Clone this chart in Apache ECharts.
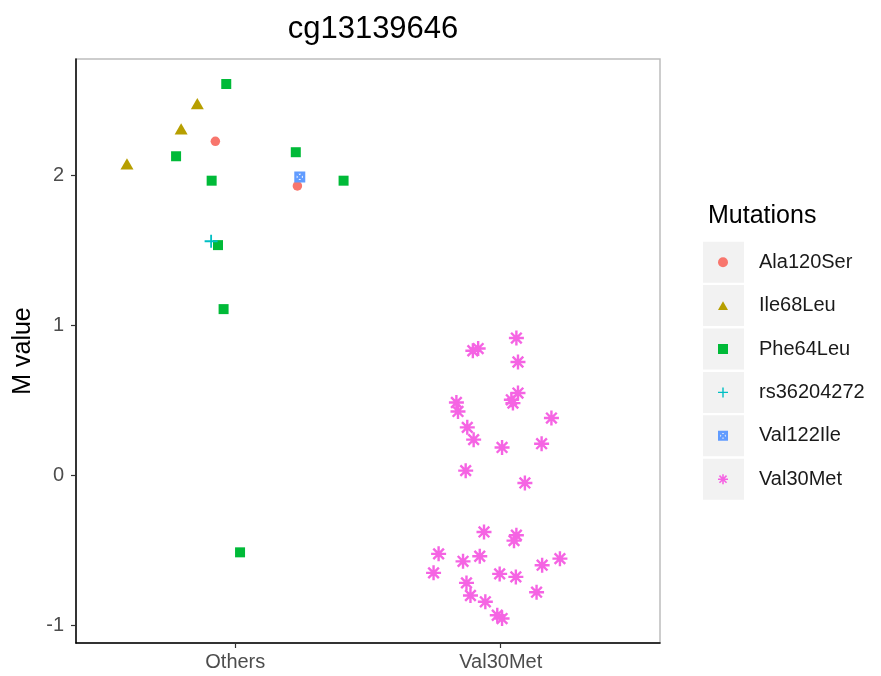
<!DOCTYPE html>
<html>
<head>
<meta charset="utf-8">
<script src="https://cdn.jsdelivr.net/npm/echarts@6/dist/echarts.min.js"></script>
<style>
html,body{margin:0;padding:0;background:#fff;}
#chart{width:881px;height:676px;}
</style>
</head>
<body>
<div id="chart"></div>
<script>
// ---- data ----
const chartTitle = 'cg13139646';
const categories = ['Others', 'Val30Met'];
const yTicks = [-1, 0, 1, 2];
const mutations = ['Ala120Ser', 'Ile68Leu', 'Phe64Leu', 'rs36204272', 'Val122Ile', 'Val30Met'];
const mutationColors = ['#F8766D', '#B79F00', '#00BA38', '#00BFC4', '#619CFF', '#F564E3'];

// each point: [category index, horizontal jitter, M value]
const ala120Ser = [[0, -0.075, 2.228], [0, 0.234, 1.93]];
const ile68Leu = [[0, -0.143, 2.48], [0, -0.204, 2.31], [0, -0.408, 2.077]];
const phe64Leu = [[0, -0.034, 2.61], [0, -0.223, 2.128], [0, 0.228, 2.155], [0, 0.408, 1.965],
  [0, -0.089, 1.965], [0, -0.065, 1.535], [0, -0.044, 1.108], [0, 0.018, -0.515]];
const rs36204272 = [[0, -0.091, 1.561]];
const val122Ile = [[0, 0.243, 1.99]];
const val30Met = [
  [1, 0.059, 0.915], [1, -0.105, 0.83], [1, -0.085, 0.845], [1, 0.065, 0.755], [1, 0.065, 0.548],
  [1, 0.04, 0.503], [1, 0.046, 0.481], [1, -0.167, 0.485], [1, -0.161, 0.425], [1, 0.191, 0.381],
  [1, -0.126, 0.319], [1, -0.102, 0.237], [1, 0.154, 0.21], [1, 0.005, 0.185], [1, -0.132, 0.03],
  [1, 0.091, -0.052], [1, -0.063, -0.379], [1, 0.059, -0.401], [1, 0.05, -0.437], [1, -0.234, -0.525],
  [1, -0.142, -0.575], [1, -0.079, -0.541], [1, 0.223, -0.557], [1, 0.156, -0.601], [1, -0.253, -0.652],
  [1, -0.004, -0.659], [1, 0.057, -0.679], [1, -0.129, -0.719], [1, -0.114, -0.803], [1, 0.135, -0.781],
  [1, -0.058, -0.845], [1, -0.013, -0.935], [1, 0.005, -0.957]
];
const seriesPoints = [ala120Ser, ile68Leu, phe64Leu, rs36204272, val122Ile, val30Met];

// ---- symbols ----
function asteriskPath(h) {
  let d = '';
  [0, 45, 90, 135].forEach(function (deg) {
    const t = deg * Math.PI / 180;
    const ux = Math.cos(t), uy = Math.sin(t), vx = -uy, vy = ux;
    const pts = [[5 + ux * 5 + vx * h, 5 + uy * 5 + vy * h], [5 + ux * 5 - vx * h, 5 + uy * 5 - vy * h],
                 [5 - ux * 5 - vx * h, 5 - uy * 5 - vy * h], [5 - ux * 5 + vx * h, 5 - uy * 5 + vy * h]];
    d += 'M' + pts.map(function (p) { return p[0].toFixed(3) + ',' + p[1].toFixed(3); }).join('L') + 'Z';
  });
  return 'path://' + d;
}
const trianglePath = 'path://M5,0L10,8.66L0,8.66Z';
const squarePath = 'path://M0,0H10V10H0Z';
const plusPath = 'path://M4.3,0H5.7V4.3H10V5.7H5.7V10H4.3V5.7H0V4.3H4.3Z';
const squareCrossPath = 'path://M0,0H10V10H0Z' +
  'M3.756,2.2L5,3.444L6.244,2.2Z' +
  'M7.8,3.756L6.556,5L7.8,6.244Z' +
  'M6.244,7.8L5,6.556L3.756,7.8Z' +
  'M2.2,6.244L3.444,5L2.2,3.756Z';
const symbols = ['circle', trianglePath, squarePath, plusPath, squareCrossPath, asteriskPath(0.8)];
const symbolSizes = [9.5, 13, 10, 13, 11, 15];

const chart = echarts.init(document.getElementById('chart'), null, { renderer: 'canvas' });

const series = mutations.map(function (name, i) {
  return {
    name: name,
    type: 'scatter',
    symbol: symbols[i],
    symbolSize: symbolSizes[i],
    symbolKeepAspect: true,
    itemStyle: { color: mutationColors[i], opacity: 1 },
    emphasis: { disabled: true },
    data: seriesPoints[i].map(function (p) { return [p[0] + p[1], p[2]]; }),
    z: 3
  };
});

const boxGraphics = mutations.map(function (m, i) {
  return {
    type: 'rect', left: 703, top: 241.7 + i * 43.4, z: 0,
    shape: { width: 41, height: 41 },
    style: { fill: '#F2F2F2' }
  };
});

chart.setOption({
  animation: false,
  backgroundColor: '#ffffff',
  title: [
    { text: chartTitle, left: 368, top: 9, textAlign: 'center',
      textStyle: { fontFamily: 'Liberation Sans', fontSize: 31, fontWeight: 'normal', color: '#000' } },
    { text: 'Mutations', left: 703, top: 199,
      textStyle: { fontFamily: 'Liberation Sans', fontSize: 25, fontWeight: 'normal', color: '#000' } }
  ],
  grid: { left: 76, right: 221, top: 59, bottom: 33, show: true, borderColor: '#BDBDBD', borderWidth: 1.5, backgroundColor: '#fff' },
  xAxis: {
    type: 'value', min: -0.6, max: 1.6,
    splitLine: { show: false },
    axisLine: { onZero: false, lineStyle: { color: '#000', width: 1.5 } },
    axisTick: { customValues: [0, 1], length: 5, lineStyle: { color: '#333', width: 1.2 } },
    axisLabel: { customValues: [0, 1], margin: 9, color: '#4D4D4D', fontSize: 20, fontFamily: 'Liberation Sans',
      formatter: function (v) { return categories[Math.round(v)]; } }
  },
  yAxis: {
    type: 'value', min: -1.12, max: 2.777,
    name: 'M value', nameLocation: 'middle', nameGap: 39, nameRotate: 90,
    nameTextStyle: { fontFamily: 'Liberation Sans', fontSize: 25, color: '#000' },
    splitLine: { show: false },
    axisLine: { onZero: false, lineStyle: { color: '#000', width: 1.5 } },
    axisTick: { customValues: yTicks, length: 5, lineStyle: { color: '#333', width: 1.2 } },
    axisLabel: { customValues: yTicks, margin: 12, color: '#4D4D4D', fontSize: 20, fontFamily: 'Liberation Sans' }
  },
  legend: {
    orient: 'vertical', left: 718, top: 241.7, padding: 0,
    itemWidth: 10, itemHeight: 10, itemGap: 2.4,
    selectedMode: false,
    data: mutations,
    textStyle: { fontFamily: 'Liberation Sans', fontSize: 20, color: '#1A1A1A', lineHeight: 41, padding: [0, 0, 0, 26] },
    z: 5
  },
  graphic: boxGraphics,
  series: series
});
</script>
</body>
</html>
